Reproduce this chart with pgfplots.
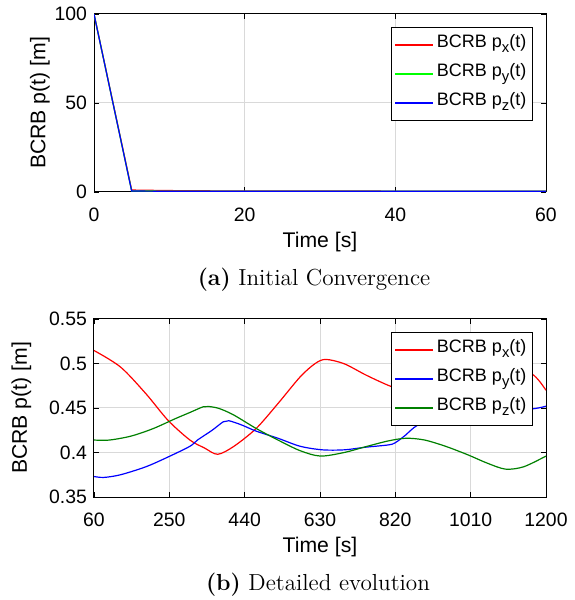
\documentclass[border=0pt]{standalone}
\usepackage{fontspec}
\newfontfamily\arial{Liberation Sans}
\usepackage{pgfplots}
\pgfplotsset{compat=1.18}

\definecolor{mred}{rgb}{1,0,0}
\definecolor{mgreen}{rgb}{0,1,0}
\definecolor{mblue}{rgb}{0,0,1}
\definecolor{mdgreen}{rgb}{0,0.5,0}

% lowered subscript like MATLAB's tex interpreter
\newcommand\sub[1]{\raisebox{-0.55ex}{\fontsize{7.4}{8}\selectfont #1}}

\pgfplotsset{
  bcrb/.style={
    width=226pt, height=89pt, scale only axis,
    anchor=south west,
    axis line style={black, line width=0.5pt},
    tick align=inside, tick style={black, line width=0.4pt},
    major tick length=2.5pt,
    grid=major, major grid style={gray!30, line width=0.5pt},
    ticklabel style={font=\arial\fontsize{9.7}{11}\selectfont},
    xticklabel style={yshift=-4.2pt},
    /pgf/number format/assume math mode=true,
    /pgf/number format/1000 sep={},
    label style={font=\arial\fontsize{10.6}{13}\selectfont},
    xlabel style={at={(axis description cs:0.5,-0.28)}, anchor=center},
    xlabel={Time [s]}, ylabel={BCRB p(t) [m]},
    legend style={at={(0.971,0.927)}, anchor=north east,
      draw=black, line width=0.5pt, fill=white,
      font=\arial\fontsize{9}{11}\selectfont,
      inner sep=1.5pt,
      nodes={inner sep=1.5pt, text height=7pt, text depth=4.5pt}},
    legend cell align=left,
    legend image code/.code={\draw[#1] (0pt,0pt) -- (19pt,0pt);},
  }
}

\begin{document}
\begin{tikzpicture}
\useasboundingbox (0,0) rectangle (287pt,300pt);

\begin{axis}[bcrb, at={(47pt,204pt)},
  ylabel style={at={(axis description cs:-0.1195,0.5)}, anchor=center},
  xmin=0, xmax=60, ymin=0, ymax=100,
  xtick={0,20,40,60}, ytick={0,50,100}]
\addplot[mred, line width=0.6pt] coordinates {
  (0,100) (5,1.1) (10,0.8) (15,0.65) (20,0.58) (30,0.52) (40,0.5) (50,0.49) (60,0.48)};
\addlegendentry{BCRB p\sub{x}(t)}
\addplot[mgreen, line width=0.6pt] coordinates {
  (0,100) (5,0.6) (10,0.45) (20,0.42) (40,0.41) (60,0.4)};
\addlegendentry{BCRB p\sub{y}(t)}
\addplot[mblue, line width=0.6pt] coordinates {
  (0,100) (5,0.55) (10,0.42) (20,0.4) (40,0.41) (60,0.45)};
\addlegendentry{BCRB p\sub{z}(t)}
\end{axis}

\node[font=\fontsize{11.6}{14}\selectfont] at (157pt,160pt) {\textbf{(a)} Initial Convergence};

\begin{axis}[bcrb, at={(47pt,51.5pt)},
  ylabel style={at={(axis description cs:-0.1606,0.5)}, anchor=center},
  xmin=60, xmax=1200, ymin=0.35, ymax=0.55,
  xtick={60,250,440,630,820,1010,1200},
  ytick={0.35,0.4,0.45,0.5,0.55},
  yticklabel style={/pgf/number format/fixed}]
\addplot[mred, line width=0.6pt, smooth] coordinates {
  (60,0.5146) (127,0.496) (191,0.466) (247,0.436) (302,0.414) (339,0.405)
  (372,0.398) (413,0.407) (469,0.427) (524,0.455) (580,0.485) (617,0.4997)
  (644,0.5046) (691,0.4997) (746,0.487) (802,0.4755) (850,0.468) (920,0.462)
  (1000,0.463) (1070,0.472) (1130,0.486) (1160,0.489) (1180,0.482) (1200,0.470)};
\addlegendentry{BCRB p\sub{x}(t)}
\addplot[mblue, line width=0.6pt, smooth] coordinates {
  (60,0.373) (85,0.372) (127,0.375) (191,0.384) (247,0.395) (302,0.407)
  (321,0.414) (358,0.425) (386,0.4345) (400,0.4357) (432,0.431) (469,0.424)
  (524,0.416) (580,0.407) (636,0.403) (691,0.403) (746,0.406) (802,0.4085)
  (820,0.411) (847,0.420) (867,0.428) (900,0.436) (960,0.442) (1030,0.444)
  (1100,0.446) (1172,0.4494) (1200,0.452)};
\addlegendentry{BCRB p\sub{y}(t)}
\addplot[mdgreen, line width=0.6pt, smooth] coordinates {
  (60,0.414) (99,0.414) (154,0.4185) (210,0.427) (265,0.438) (302,0.445)
  (335,0.4513) (349,0.4517) (376,0.4494) (413,0.442) (469,0.427) (524,0.414)
  (580,0.402) (631,0.396) (691,0.400) (746,0.4066) (802,0.413) (847,0.416)
  (894,0.414) (949,0.4066) (1005,0.397) (1052,0.388) (1098,0.3813)
  (1144,0.384) (1200,0.396)};
\addlegendentry{BCRB p\sub{z}(t)}
\end{axis}

\node[font=\fontsize{11.6}{14}\selectfont] at (159pt,7.5pt) {\textbf{(b)} Detailed evolution};
\end{tikzpicture}
\end{document}
